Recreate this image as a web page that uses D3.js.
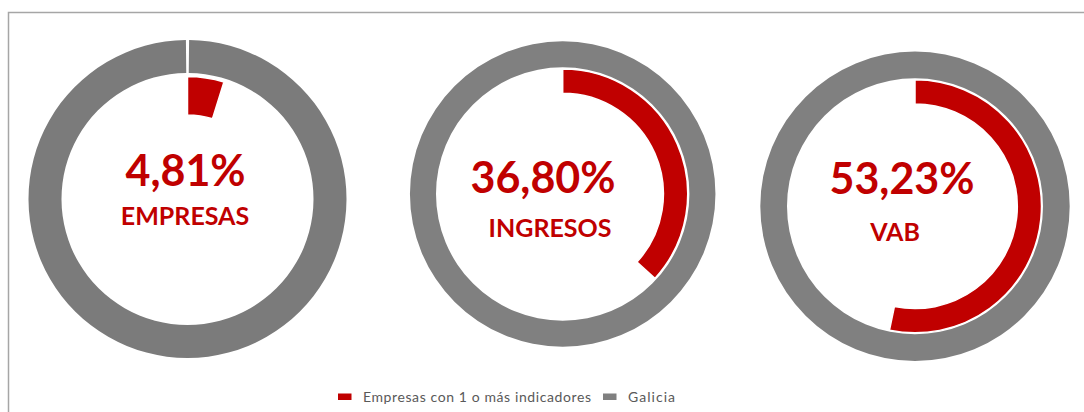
<html>
<head>
<meta charset='utf-8'>
<script src='https://d3js.org/d3.v7.min.js'></script>
<style>
body { margin: 0; background: white; }
text { font-family: Lato, 'Open Sans', sans-serif; }
</style>
</head>
<body>
<svg width=1084 height=412></svg>
<script>
// chart values
const categories = ['EMPRESAS', 'INGRESOS', 'VAB']
const empresasValues = [4.81, 36.80, 53.23]
const galiciaValues = [100, 100, 100]
const valueLabels = ['4,81%', '36,80%', '53,23%']
const seriesNames = ['Empresas con 1 o más indicadores', 'Galicia']

const red = '#c00000'
const greys = ['#7b7b7b', '#808080', '#808080']

// each doughnut was its own little chart, so sizes differ a bit
const layout = [
	{ cx: 187.5, cy: 199, gray: [126, 159], red: [84, 122.5], pad: 0.02, vx: -2, vy: -13, lx: -2.5, ly: 26 },
	{ cx: 562.7, cy: 194, gray: [126.7, 152.7], red: [100.7, 125], pad: 0, vx: -19.7, vy: -1, lx: -12.7, ly: 43 },
	{ cx: 915, cy: 206.3, gray: [128, 154.7], red: [102.3, 126.5], pad: 0, vx: -13, vy: -12, lx: -20, ly: 35 }
]

const svg = d3.select('svg')

// outer frame (cut off by the window on the right and bottom)
svg.append('rect')
	.attr('x', 8.5).attr('y', 12.5)
	.attr('width', 1100).attr('height', 420)
	.attr('fill', 'none')
	.attr('stroke', '#a6a6a6')
	.attr('stroke-width', 1.5)

const pie = d3.pie().sort(null).value(d => d)

categories.forEach((cat, i) => {
	const L = layout[i]
	const g = svg.append('g').attr('transform', `translate(${L.cx},${L.cy})`)

	// Galicia ring (outer); a full circle ignores padAngle, so trim the ends by hand
	const grayArc = d3.arc().innerRadius(L.gray[0]).outerRadius(L.gray[1])
	g.selectAll('path.galicia')
		.data(pie([galiciaValues[i]]))
		.enter().append('path')
		.attr('class', 'galicia')
		.attr('d', d => grayArc({ startAngle: d.startAngle + L.pad / 2, endAngle: d.endAngle - L.pad / 2, padAngle: 0 }))
		.attr('fill', greys[i])

	// Empresas ring (inner), remainder left empty
	const redArc = d3.arc().innerRadius(L.red[0]).outerRadius(L.red[1])
	g.selectAll('path.empresas')
		.data(pie([empresasValues[i], 100 - empresasValues[i]]))
		.enter().append('path')
		.attr('class', 'empresas')
		.attr('d', redArc)
		.attr('fill', (d, j) => j === 0 ? red : 'none')
		.attr('stroke', (d, j) => j === 0 ? 'white' : 'none')
		.attr('stroke-width', 1.5)

	g.append('text')
		.attr('x', L.vx).attr('y', L.vy)
		.attr('text-anchor', 'middle')
		.attr('font-size', 43)
		.attr('font-weight', 'bold')
		.attr('fill', red)
		.text(valueLabels[i])

	g.append('text')
		.attr('x', L.lx).attr('y', L.ly)
		.attr('text-anchor', 'middle')
		.attr('font-size', 25)
		.attr('font-weight', 'bold')
		.attr('fill', red)
		.text(cat)
})

// legend
const legend = svg.append('g')
const legendItems = [
	{ name: seriesNames[0], color: red, x: 338, w: 228 },
	{ name: seriesNames[1], color: '#808080', x: 603, w: 47 }
]
legendItems.forEach(item => {
	legend.append('rect')
		.attr('x', item.x).attr('y', 393.5)
		.attr('width', 13.5).attr('height', 6.5)
		.attr('fill', item.color)
	legend.append('text')
		.attr('x', item.x + 25).attr('y', 401.5)
		.attr('font-size', 14)
		.attr('fill', '#595959')
		.attr('textLength', item.w)
		.attr('lengthAdjust', 'spacing')
		.text(item.name)
})
</script>
</body>
</html>
